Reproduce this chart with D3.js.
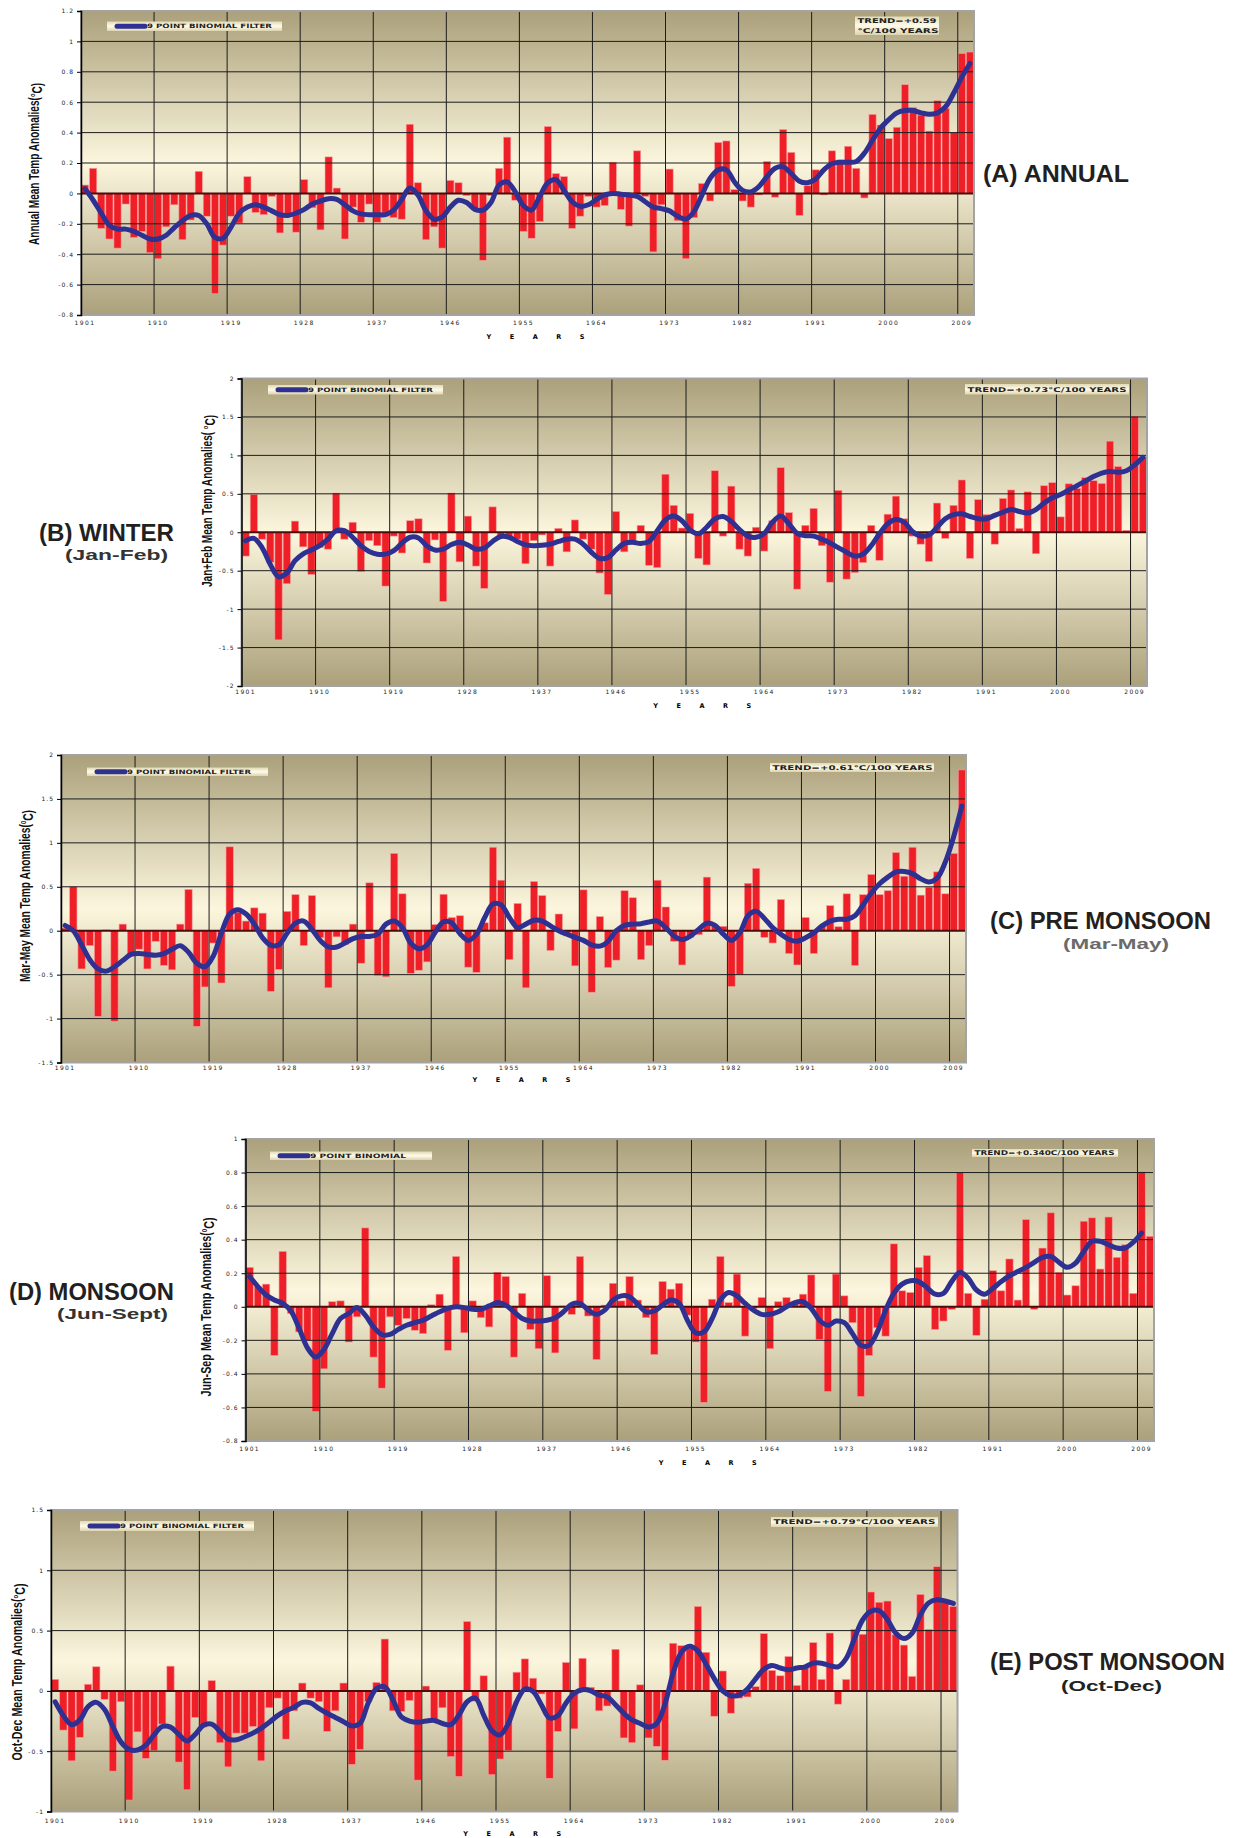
<!DOCTYPE html>
<html>
<head>
<meta charset="utf-8">
<script src="https://cdn.jsdelivr.net/npm/d3@7"></script>
<style>
  body { margin: 0; background: #fff; }
</style>
</head>
<body>
<script>
// categories and axis labels
const years = d3.range(1901, 2011)
const yearTicks = [1901, 1910, 1919, 1928, 1937, 1946, 1955, 1964, 1973, 1982, 1991, 2000, 2009]

const annualTicks = [-0.8, -0.6, -0.4, -0.2, 0, 0.2, 0.4, 0.6, 0.8, 1, 1.2]
const winterTicks = [-2, -1.5, -1, -0.5, 0, 0.5, 1, 1.5, 2]
const preTicks = [-1.5, -1, -0.5, 0, 0.5, 1, 1.5, 2]
const monsoonTicks = [-0.8, -0.6, -0.4, -0.2, 0, 0.2, 0.4, 0.6, 0.8, 1]
const postTicks = [-1, -0.5, 0, 0.5, 1, 1.5]

// (A) annual anomalies, 1901-2010, and the 9 point binomial curve
const annualBars = [0.055, 0.165, -0.23, -0.30, -0.36, -0.07, -0.29, -0.25, -0.39, -0.43,
  -0.22, -0.075, -0.305, -0.175, 0.145, -0.15, -0.66, -0.34, -0.15, -0.195,
  0.11, -0.125, -0.14, -0.02, -0.26, -0.15, -0.255, 0.09, -0.095, -0.24,
  0.24, 0.035, -0.30, -0.09, -0.19, -0.07, -0.19, -0.15, -0.16, -0.17,
  0.455, 0.07, -0.305, -0.22, -0.36, 0.085, 0.07, -0.015, -0.10, -0.44,
  -0.015, 0.165, 0.37, -0.045, -0.25, -0.295, -0.185, 0.44, 0.13, 0.11,
  -0.23, -0.15, -0.02, -0.09, -0.08, 0.205, -0.105, -0.215, 0.28, -0.02,
  -0.385, -0.075, 0.16, -0.18, -0.43, -0.16, 0.065, -0.05, 0.335, 0.345,
  0.025, -0.05, -0.09, -0.01, 0.21, -0.025, 0.42, 0.27, -0.145, 0.05,
  0.155, -0.01, 0.28, 0.22, 0.31, 0.165, -0.03, 0.52, 0.45, 0.36,
  0.435, 0.715, 0.565, 0.515, 0.41, 0.61, 0.56, 0.40, 0.92, 0.93]
const annualFilter = [0.03, -0.045, -0.13, -0.21, -0.235, -0.235, -0.25, -0.275, -0.30, -0.30,
  -0.275, -0.225, -0.18, -0.145, -0.145, -0.20, -0.29, -0.295, -0.22, -0.13,
  -0.09, -0.075, -0.09, -0.115, -0.14, -0.145, -0.13, -0.105, -0.07, -0.05,
  -0.035, -0.04, -0.075, -0.115, -0.135, -0.14, -0.14, -0.14, -0.11, -0.04,
  0.035, -0.01, -0.115, -0.17, -0.155, -0.09, -0.045, -0.06, -0.105, -0.11,
  -0.06, 0.055, 0.075, 0.01, -0.08, -0.11, -0.02, 0.07, 0.09, 0.02,
  -0.055, -0.085, -0.075, -0.04, -0.01, 0, -0.005, -0.01, -0.02, -0.055,
  -0.09, -0.10, -0.115, -0.15, -0.17, -0.12, -0.01, 0.10, 0.155, 0.155,
  0.075, 0.02, 0.01, 0.045, 0.11, 0.165, 0.175, 0.13, 0.08, 0.07,
  0.095, 0.155, 0.195, 0.205, 0.205, 0.21, 0.265, 0.35, 0.43, 0.485,
  0.53, 0.545, 0.545, 0.53, 0.52, 0.53, 0.57, 0.66, 0.765, 0.855]

// (B) winter, Jan-Feb
const winterBars = [-0.31, 0.49, -0.09, -0.39, -1.40, -0.67, 0.145, -0.19, -0.55, -0.20,
  -0.22, 0.51, -0.09, 0.13, -0.51, -0.11, -0.175, -0.70, -0.05, -0.27,
  0.15, 0.175, -0.40, -0.10, -0.90, 0.51, -0.385, 0.21, -0.44, -0.73,
  0.33, -0.04, -0.06, -0.09, -0.41, -0.11, -0.035, -0.44, 0.05, -0.255,
  0.16, -0.09, -0.22, -0.53, -0.81, 0.27, -0.255, -0.11, 0.09, -0.43,
  -0.46, 0.755, 0.35, 0.055, 0.245, -0.34, -0.425, 0.80, -0.05, 0.60,
  -0.22, -0.31, 0.065, -0.245, 0.15, 0.84, 0.255, -0.74, 0.09, 0.31,
  -0.175, -0.65, 0.545, -0.61, -0.525, -0.395, 0.09, -0.365, 0.235, 0.47,
  0.175, -0.05, -0.155, -0.38, 0.38, -0.08, 0.35, 0.68, -0.34, 0.425,
  0.23, -0.155, 0.44, 0.55, 0.05, 0.525, -0.28, 0.605, 0.645, 0.20,
  0.63, 0.57, 0.71, 0.67, 0.635, 1.185, 0.855, 0.025, 1.51, 0.98]
const winterFilter = [-0.11, -0.08, -0.20, -0.42, -0.58, -0.53, -0.37, -0.28, -0.23, -0.175,
  -0.09, 0.02, 0.02, -0.065, -0.175, -0.25, -0.285, -0.285, -0.24, -0.14,
  -0.065, -0.075, -0.175, -0.23, -0.22, -0.16, -0.13, -0.165, -0.22, -0.205,
  -0.12, -0.055, -0.065, -0.12, -0.165, -0.175, -0.17, -0.155, -0.12, -0.09,
  -0.09, -0.155, -0.26, -0.34, -0.33, -0.23, -0.145, -0.13, -0.145, -0.12,
  0.02, 0.16, 0.21, 0.15, 0.03, -0.02, 0.065, 0.175, 0.205, 0.14,
  0.035, -0.05, -0.065, -0.015, 0.13, 0.21, 0.11, -0.015, -0.045, -0.05,
  -0.09, -0.14, -0.20, -0.26, -0.31, -0.285, -0.175, -0.02, 0.11, 0.165,
  0.13, 0.01, -0.05, -0.035, 0.065, 0.175, 0.23, 0.24, 0.205, 0.175,
  0.175, 0.22, 0.26, 0.295, 0.27, 0.25, 0.295, 0.38, 0.45, 0.49,
  0.55, 0.605, 0.665, 0.725, 0.77, 0.79, 0.78, 0.80, 0.875, 0.975]

// (C) pre monsoon, Mar-May
const preBars = [0.03, 0.50, -0.435, -0.17, -0.975, 0.01, -1.03, 0.075, -0.28, -0.21,
  -0.435, -0.12, -0.395, -0.445, 0.075, 0.47, -1.09, -0.64, -0.14, -0.595,
  0.955, 0.21, 0.11, 0.26, 0.20, -0.69, -0.44, 0.22, 0.41, -0.17,
  0.40, -0.08, -0.65, -0.07, -0.16, 0.075, -0.37, 0.545, -0.51, -0.525,
  0.88, 0.42, -0.485, -0.45, -0.355, 0.07, 0.415, 0.15, 0.17, -0.415,
  -0.475, 0.09, 0.95, 0.575, -0.33, 0.31, -0.65, 0.56, 0.40, -0.225,
  0.19, -0.06, -0.40, 0.465, -0.70, 0.16, -0.42, -0.335, 0.455, 0.375,
  -0.33, -0.17, 0.575, 0.27, -0.12, -0.39, -0.075, -0.045, 0.61, 0.055,
  0.05, -0.635, -0.50, 0.54, 0.71, -0.075, -0.14, 0.355, -0.26, -0.39,
  0.15, -0.26, 0.05, 0.285, 0.045, 0.42, -0.395, 0.41, 0.64, 0.41,
  0.455, 0.89, 0.62, 0.95, 0.405, 0.495, 0.67, 0.42, 0.88, 1.83]
const preFilter = [0.06, 0, -0.16, -0.33, -0.435, -0.46, -0.41, -0.34, -0.27, -0.26,
  -0.27, -0.28, -0.26, -0.21, -0.17, -0.245, -0.37, -0.41, -0.29, -0.025,
  0.19, 0.24, 0.19, 0.075, -0.08, -0.165, -0.16, -0.025, 0.085, 0.11,
  0.015, -0.11, -0.185, -0.185, -0.14, -0.09, -0.065, -0.065, -0.04, 0.075,
  0.11, 0.035, -0.14, -0.205, -0.16, -0.015, 0.10, 0.09, -0.035, -0.11,
  -0.04, 0.15, 0.305, 0.295, 0.15, 0.035, 0.075, 0.12, 0.11, 0.055,
  0, -0.04, -0.075, -0.11, -0.16, -0.175, -0.12, 0, 0.06, 0.075,
  0.08, 0.10, 0.11, 0.035, -0.06, -0.10, -0.06, 0.015, 0.085, 0.06,
  -0.04, -0.11, -0.025, 0.17, 0.22, 0.14, 0.035, -0.04, -0.10, -0.12,
  -0.08, -0.025, 0.055, 0.11, 0.13, 0.13, 0.17, 0.295, 0.43, 0.535,
  0.61, 0.67, 0.675, 0.65, 0.59, 0.555, 0.60, 0.785, 1.07, 1.42]

// (D) monsoon, Jun-Sept (curve runs to 2009 only)
const monsoonBars = [0.235, 0.12, 0.135, -0.29, 0.33, -0.04, -0.15, -0.20, -0.625, -0.37,
  0.03, 0.035, -0.21, -0.06, 0.47, -0.30, -0.485, -0.06, -0.11, -0.07,
  -0.14, -0.16, 0.012, 0.075, -0.26, 0.30, -0.155, 0.035, -0.065, -0.12,
  0.205, 0.18, -0.30, 0.08, -0.135, -0.25, 0.185, -0.275, 0.005, -0.045,
  0.30, -0.055, -0.315, 0.01, 0.14, 0.035, 0.18, 0.04, -0.065, -0.285,
  0.15, 0.105, 0.14, -0.05, -0.21, -0.57, 0.045, 0.30, 0.025, 0.195,
  -0.175, -0.01, 0.055, -0.25, 0.03, 0.055, 0.02, 0.075, 0.19, -0.195,
  -0.505, 0.195, 0.065, -0.095, -0.535, -0.29, -0.125, -0.175, 0.375, 0.095,
  0.085, 0.235, 0.305, -0.135, -0.085, -0.015, 0.80, 0.08, -0.17, 0.045,
  0.215, 0.095, 0.285, 0.04, 0.52, -0.015, 0.35, 0.56, 0.205, 0.07,
  0.125, 0.51, 0.53, 0.225, 0.535, 0.295, 0.37, 0.08, 0.805, 0.42]
const monsoonFilter = [0.18, 0.12, 0.07, 0.04, 0.02, -0.025, -0.13, -0.245, -0.30, -0.255,
  -0.16, -0.07, -0.04, -0.005, -0.05, -0.12, -0.165, -0.165, -0.135, -0.11,
  -0.095, -0.08, -0.055, -0.03, -0.01, 0, -0.005, -0.015, -0.015, 0.005,
  0.025, 0.01, -0.03, -0.07, -0.085, -0.085, -0.08, -0.065, -0.03, 0.015,
  0.02, -0.02, -0.045, -0.02, 0.04, 0.065, 0.06, 0.015, -0.03, -0.025,
  0.01, 0.04, 0.02, -0.08, -0.155, -0.15, -0.07, 0.04, 0.085, 0.065,
  0.02, -0.02, -0.045, -0.045, -0.03, 0, 0.025, 0.03, -0.01, -0.08,
  -0.11, -0.085, -0.095, -0.16, -0.23, -0.23, -0.15, -0.02, 0.08, 0.135,
  0.155, 0.15, 0.115, 0.075, 0.08, 0.15, 0.205, 0.17, 0.10, 0.075,
  0.11, 0.15, 0.185, 0.21, 0.235, 0.265, 0.295, 0.30, 0.265, 0.235,
  0.26, 0.33, 0.39, 0.39, 0.37, 0.35, 0.35, 0.385, 0.44]

// (E) post monsoon, Oct-Dec
const postBars = [0.095, -0.325, -0.58, -0.385, 0.055, 0.20, -0.07, -0.665, -0.09, -0.905,
  -0.34, -0.56, -0.495, -0.275, 0.205, -0.59, -0.82, -0.22, -0.30, 0.085,
  -0.43, -0.63, -0.35, -0.35, -0.295, -0.58, -0.14, -0.06, -0.40, -0.165,
  0.065, -0.06, -0.09, -0.335, -0.165, 0.065, -0.61, -0.485, -0.09, 0.07,
  0.43, -0.165, -0.17, -0.08, -0.74, 0.04, -0.235, -0.14, -0.545, -0.71,
  0.575, -0.085, 0.125, -0.695, -0.565, -0.495, 0.155, 0.265, 0.105, -0.025,
  -0.725, -0.335, 0.235, -0.315, 0.27, 0.03, -0.165, -0.125, 0.345, -0.39,
  -0.43, 0.05, -0.39, -0.46, -0.575, 0.395, 0.375, 0.35, 0.70, 0.32,
  -0.21, 0.165, -0.185, -0.06, -0.05, 0.035, 0.475, 0.17, 0.125, 0.285,
  0.045, 0.19, 0.40, 0.095, 0.48, -0.11, 0.095, 0.51, 0.47, 0.82,
  0.735, 0.745, 0.465, 0.38, 0.12, 0.80, 0.51, 1.03, 0.74, 0.70]
const postFilter = [-0.09, -0.205, -0.28, -0.24, -0.13, -0.095, -0.155, -0.295, -0.425, -0.485,
  -0.49, -0.45, -0.365, -0.295, -0.30, -0.36, -0.415, -0.36, -0.285, -0.275,
  -0.335, -0.40, -0.405, -0.38, -0.35, -0.31, -0.26, -0.205, -0.165, -0.135,
  -0.095, -0.10, -0.145, -0.185, -0.22, -0.255, -0.29, -0.27, -0.10, 0.02,
  0.035, -0.075, -0.215, -0.25, -0.26, -0.25, -0.245, -0.27, -0.28, -0.20,
  -0.09, -0.06, -0.20, -0.33, -0.365, -0.27, -0.09, 0.015, -0.005, -0.115,
  -0.225, -0.205, -0.10, -0.02, 0.01, 0, -0.035, -0.05, -0.115, -0.185,
  -0.24, -0.27, -0.30, -0.27, -0.11, 0.15, 0.32, 0.37, 0.33, 0.22,
  0.10, 0, -0.04, -0.035, 0.015, 0.10, 0.18, 0.21, 0.19, 0.175,
  0.19, 0.20, 0.23, 0.23, 0.21, 0.20, 0.27, 0.435, 0.59, 0.66,
  0.665, 0.59, 0.48, 0.435, 0.48, 0.63, 0.73, 0.755, 0.745, 0.725]

// layout of the five panels (pixel positions only)
const panels = [
  { bars: annualBars, filter: annualFilter, ticks: annualTicks,
    left: 81, right: 974, top: 11, bottom: 315,
    ytitle: 'Annual Mean Temp Anomalies(', ytx: 34, yty: 164, ytw: 162,
    legend: { x: 107, y: 21.5, w: 175, h: 9.5, text: '9 POINT BINOMIAL FILTER', tw: 125 },
    trend: { x: 855, y: 16.5, w: 84, h: 18.5, lines: ['TREND=+0.59', '\u00b0C/100 YEARS'], tw: [79, 81] },
    title: { text: '(A) ANNUAL', x: 983, y: 182, w: 146 },
    lab: 8, yrs: 22 },
  { bars: winterBars, filter: winterFilter, ticks: winterTicks,
    left: 241.5, right: 1147, top: 378.5, bottom: 686,
    ytitle: 'Jan+Feb Mean Temp Anomalies( ', ytx: 207, yty: 501, ytw: 172,
    legend: { x: 268, y: 385, w: 175, h: 9.5, text: '9 POINT BINOMIAL FILTER', tw: 125 },
    trend: { x: 965, y: 384, w: 164, h: 10.5, lines: ['TREND=+0.73\u00b0C/100 YEARS'], tw: [159] },
    title: { text: '(B) WINTER', x: 39, y: 541, w: 135 },
    sub: { text: '(Jan-Feb)', x: 65, y: 560, w: 103, c: '#333' },
    lab: 6, yrs: 20 },
  { bars: preBars, filter: preFilter, ticks: preTicks,
    left: 61, right: 966, top: 755, bottom: 1062.5,
    ytitle: 'Mar-May Mean Temp Anomalies(', ytx: 25, yty: 896, ytw: 172, sup0: true,
    legend: { x: 87, y: 767.5, w: 181, h: 8.5, text: '9 POINT BINOMIAL FILTER', tw: 124 },
    trend: { x: 770, y: 763, w: 164, h: 9, lines: ['TREND=+0.61\u00b0C/100 YEARS'], tw: [160] },
    title: { text: '(C) PRE MONSOON', x: 990, y: 929, w: 221 },
    sub: { text: '(Mar-May)', x: 1063, y: 949, w: 106, c: '#6a6a6a' },
    lab: 5, yrs: 17 },
  { bars: monsoonBars, filter: monsoonFilter, ticks: monsoonTicks,
    left: 245.5, right: 1154, top: 1139, bottom: 1441,
    ytitle: 'Jun-Sep Mean Temp Anomalies(', ytx: 206, yty: 1307, ytw: 179, sup0: true,
    legend: { x: 270, y: 1151.5, w: 162, h: 8.5, text: '9 POINT BINOMIAL', tw: 96 },
    trend: { x: 972, y: 1149, w: 146, h: 8, lines: ['TREND=+0.340C/100 YEARS'], tw: [140] },
    title: { text: '(D) MONSOON', x: 9, y: 1300, w: 165 },
    sub: { text: '(Jun-Sept)', x: 57, y: 1319, w: 111, c: '#333' },
    lab: 8, yrs: 22 },
  { bars: postBars, filter: postFilter, ticks: postTicks,
    left: 51, right: 957.5, top: 1510, bottom: 1811.5,
    ytitle: 'Oct-Dec Mean Temp Anomalies(', ytx: 17, yty: 1672, ytw: 177,
    legend: { x: 80, y: 1521, w: 174, h: 10, text: '9 POINT BINOMIAL FILTER', tw: 124 },
    trend: { x: 771, y: 1517, w: 167, h: 10, lines: ['TREND=+0.79\u00b0C/100 YEARS'], tw: [162] },
    title: { text: '(E) POST MONSOON', x: 990, y: 1670, w: 235 },
    sub: { text: '(Oct-Dec)', x: 1061, y: 1691, w: 101, c: '#222' },
    lab: 9, yrs: 22 }
]

const W = 1236
const H = 1838
const narrow = '"Liberation Sans Narrow", "Arial Narrow", "Liberation Sans", Arial, sans-serif'
const wide = '"DejaVu Sans", Verdana, sans-serif'

const svg = d3.select('body').append('svg')
  .attr('width', W)
  .attr('height', H)
  .style('background', '#fff')

const defs = svg.append('defs')

const bg = defs.append('linearGradient').attr('id', 'plotbg')
  .attr('x1', 0).attr('x2', 0).attr('y1', 0).attr('y2', 1)
bg.append('stop').attr('offset', '0%').attr('stop-color', '#aba07b')
bg.append('stop').attr('offset', '50%').attr('stop-color', '#fbf6dd')
bg.append('stop').attr('offset', '100%').attr('stop-color', '#aba07b')

const boxbg = defs.append('linearGradient').attr('id', 'boxbg')
  .attr('x1', 0).attr('x2', 0).attr('y1', 0).attr('y2', 1)
boxbg.append('stop').attr('offset', '0%').attr('stop-color', '#e2dab4')
boxbg.append('stop').attr('offset', '50%').attr('stop-color', '#fffbea')
boxbg.append('stop').attr('offset', '100%').attr('stop-color', '#ddd4ac')

panels.forEach(p => drawPanel(p))

function drawPanel(p) {
  const g = svg.append('g')

  const x = d3.scaleBand()
    .domain(years)
    .range([p.left, p.right])
    .paddingInner(0.12)
    .paddingOuter(0.06)
  const step = x.step()
  const half = x.bandwidth() / 2

  const y = d3.scaleLinear()
    .domain(d3.extent(p.ticks))
    .range([p.bottom, p.top])

  // background
  g.append('rect')
    .attr('x', p.left).attr('y', p.top)
    .attr('width', p.right - p.left).attr('height', p.bottom - p.top)
    .attr('fill', 'url(#plotbg)')

  // bars
  g.selectAll('rect.bar')
    .data(p.bars)
    .enter()
    .append('rect')
    .attr('class', 'bar')
    .attr('x', (d, i) => x(years[i]))
    .attr('width', x.bandwidth())
    .attr('y', d => y(Math.max(0, d)))
    .attr('height', d => Math.abs(y(d) - y(0)))
    .style('fill', '#ee1f26')
    .style('stroke', '#f79a9a')
    .style('stroke-width', '0.6px')

  // horizontal gridlines
  g.selectAll('line.hgrid')
    .data(p.ticks.filter(t => t !== 0))
    .enter()
    .append('line')
    .attr('x1', p.left).attr('x2', p.right)
    .attr('y1', d => y(d)).attr('y2', d => y(d))
    .style('stroke', '#1c1c1c')
    .style('stroke-width', '1px')

  // vertical gridlines at the start of each labelled year
  g.selectAll('line.vgrid')
    .data(yearTicks.slice(1))
    .enter()
    .append('line')
    .attr('x1', d => x(d) - (step - x.bandwidth()) / 2)
    .attr('x2', d => x(d) - (step - x.bandwidth()) / 2)
    .attr('y1', p.top).attr('y2', p.bottom)
    .style('stroke', '#1c1c1c')
    .style('stroke-width', '1px')

  // zero line
  g.append('line')
    .attr('x1', p.left).attr('x2', p.right)
    .attr('y1', y(0)).attr('y2', y(0))
    .style('stroke', '#4a0c0c')
    .style('stroke-width', '2px')

  // 9 point binomial filter
  const line = d3.line()
    .x((d, i) => x(years[i]) + half)
    .y(d => y(d))
    .curve(d3.curveCatmullRom.alpha(0.5))
  g.append('path')
    .datum(p.filter)
    .attr('d', line)
    .style('fill', 'none')
    .style('stroke', '#2e3192')
    .style('stroke-width', '5px')
    .style('stroke-linejoin', 'round')
    .style('stroke-linecap', 'round')

  // frame
  g.append('rect')
    .attr('x', p.left).attr('y', p.top)
    .attr('width', p.right - p.left).attr('height', p.bottom - p.top)
    .style('fill', 'none')
    .style('stroke', '#a3a3a3')
    .style('stroke-width', '2px')

  // y axis
  const yAxis = d3.axisLeft(y)
    .tickValues(p.ticks)
    .tickSize(4)
    .tickPadding(3)
    .tickFormat(d => String(d))
  const ya = g.append('g')
    .attr('transform', `translate(${p.left},0)`)
    .call(yAxis)
  ya.select('.domain').style('stroke', '#000').style('stroke-width', '1.5px')
  ya.selectAll('.tick line').style('stroke', '#000')
  ya.selectAll('text')
    .style('font-family', wide)
    .style('font-size', '6px')
    .style('letter-spacing', '1px')
    .style('fill', '#222')

  // x axis labels
  const xAxis = d3.axisBottom(x)
    .tickValues(yearTicks)
    .tickSize(0)
    .tickPadding(p.lab)
  const xa = g.append('g')
    .attr('transform', `translate(0,${p.bottom})`)
    .call(xAxis)
  xa.select('.domain').remove()
  xa.selectAll('text')
    .attr('dy', '0.35em')
    .attr('y', p.lab)
    .style('font-family', wide)
    .style('font-size', '6px')
    .style('letter-spacing', '1.4px')
    .style('fill', '#222')

  // YEARS
  g.append('text')
    .attr('x', (p.left + p.right) / 2 + 8)
    .attr('y', p.bottom + p.yrs)
    .attr('dy', '0.35em')
    .attr('text-anchor', 'middle')
    .attr('textLength', 98)
    .attr('lengthAdjust', 'spacing')
    .style('font-family', wide)
    .style('font-weight', 'bold')
    .style('font-size', '6.5px')
    .text('YEARS')

  // y axis title
  const yt = g.append('text')
    .attr('transform', `translate(${p.ytx},${p.yty}) rotate(-90)`)
    .attr('text-anchor', 'middle')
    .attr('dy', '0.35em')
    .attr('textLength', p.ytw)
    .attr('lengthAdjust', 'spacingAndGlyphs')
    .style('font-family', narrow)
    .style('font-weight', 'bold')
    .style('font-size', '14px')
    .style('fill', '#111')
  yt.append('tspan').text(p.ytitle)
  yt.append('tspan')
    .attr('dy', '-0.45em')
    .style('font-size', '8px')
    .text(p.sup0 ? '0' : 'o')
  yt.append('tspan').attr('dy', '0.45em').text('C)')

  // legend
  const L = p.legend
  g.append('rect')
    .attr('x', L.x).attr('y', L.y).attr('width', L.w).attr('height', L.h)
    .style('fill', 'url(#boxbg)')
  g.append('line')
    .attr('x1', L.x + 10).attr('x2', L.x + 38)
    .attr('y1', L.y + L.h / 2).attr('y2', L.y + L.h / 2)
    .style('stroke', '#2e3192')
    .style('stroke-width', '5px')
    .style('stroke-linecap', 'round')
  g.append('text')
    .attr('x', L.x + 40)
    .attr('y', L.y + L.h / 2)
    .attr('dy', '0.36em')
    .attr('textLength', L.tw)
    .attr('lengthAdjust', 'spacingAndGlyphs')
    .style('font-family', wide)
    .style('font-weight', 'bold')
    .style('font-size', '6px')
    .style('fill', '#222')
    .text(L.text)

  // trend box
  const T = p.trend
  g.append('rect')
    .attr('x', T.x).attr('y', T.y).attr('width', T.w).attr('height', T.h)
    .style('fill', 'url(#boxbg)')
  T.lines.forEach((s, i) => {
    g.append('text')
      .attr('x', T.x + 2.5)
      .attr('y', T.y + (T.h / T.lines.length) * (i + 0.5))
      .attr('dy', '0.36em')
      .attr('textLength', T.tw[i])
      .attr('lengthAdjust', 'spacingAndGlyphs')
      .style('font-family', wide)
      .style('font-weight', 'bold')
      .style('font-size', '6.5px')
      .style('fill', '#222')
      .text(s)
  })

  // panel title
  g.append('text')
    .attr('x', p.title.x)
    .attr('y', p.title.y)
    .attr('textLength', p.title.w)
    .attr('lengthAdjust', 'spacingAndGlyphs')
    .style('font-family', narrow)
    .style('font-weight', 'bold')
    .style('font-size', '24px')
    .style('fill', '#231f20')
    .text(p.title.text)
  if (p.sub) {
    g.append('text')
      .attr('x', p.sub.x)
      .attr('y', p.sub.y)
      .attr('textLength', p.sub.w)
      .attr('lengthAdjust', 'spacingAndGlyphs')
      .style('font-family', '"Liberation Sans", Arial, sans-serif')
      .style('font-weight', 'bold')
      .style('font-size', '15px')
      .style('fill', p.sub.c)
      .text(p.sub.text)
  }
}
</script>
</body>
</html>
